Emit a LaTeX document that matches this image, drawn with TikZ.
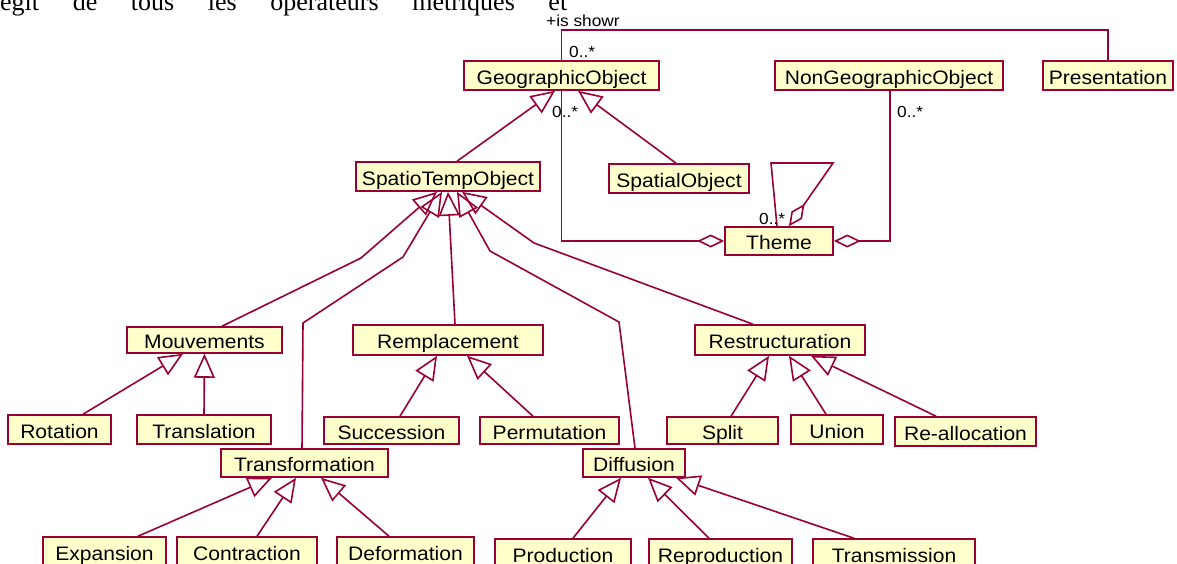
\documentclass[tikz,border=0pt]{standalone}
\usepackage{fontspec}
\setmainfont{Liberation Sans}[FakeStretch=1.08]
\newfontfamily\pagefont{Liberation Serif}
\usetikzlibrary{arrows.meta}
\definecolor{umlline}{HTML}{990033}
\definecolor{umlfill}{HTML}{FFFFCC}
\tikzset{
  cls/.style={draw=umlline, fill=umlfill, line width=1.6pt, inner sep=0pt,
    font=\fontsize{19.5}{21}\selectfont, text=black, text height=19.5pt, text depth=2pt},
  conn/.style={draw=umlline, line width=1.6pt},
  gen/.style={conn, -{Triangle[open,length=24pt,width=21pt]}},
  agg/.style={conn, -{Diamond[open,length=27pt,width=13pt]}},
  lbl/.style={font=\fontsize{16}{18}\selectfont, inner sep=0pt, anchor=base west},
}
\begin{document}
\begin{tikzpicture}[x=1pt,y=-1pt]
\useasboundingbox (0,0) rectangle (1177,563);
\clip (0,0) rectangle (1177,563);
\fill[white] (0,0) rectangle (1177,563);

% page text (cropped)
\node[anchor=base west, inner sep=0pt, font=\pagefont\fontsize{26}{28}\selectfont] (pagetext) at (0,10.5)
  {\makebox[567pt][s]{egit de tous les opérateurs métriques et}};

% classes
\node[cls, minimum width=195pt, minimum height=29pt] (geo) at (561.5,75.5) {GeographicObject};
\node[cls, minimum width=228pt, minimum height=29pt] (nongeo) at (889,75.5) {NonGeographicObject};
\node[cls, minimum width=130pt, minimum height=29pt] (pres) at (1108,75.5) {Presentation};
\node[cls, minimum width=184pt, minimum height=29pt] (spt) at (448,176.5) {SpatioTempObject};
\node[cls, minimum width=140pt, minimum height=29pt] (spatial) at (679,178.5) {SpatialObject};
\node[cls, minimum width=108pt, minimum height=28pt] (theme) at (779,241) {Theme};

\node[cls, minimum width=155pt, minimum height=26pt] (mouv) at (204.5,340) {Mouvements};
\node[cls, minimum width=190pt, minimum height=30pt] (rempl) at (448,340) {Remplacement};
\node[cls, minimum width=170pt, minimum height=30pt] (restr) at (780,340) {Restructuration};

\node[cls, minimum width=103pt, minimum height=29pt] (rot) at (59.5,429.5) {Rotation};
\node[cls, minimum width=134pt, minimum height=29pt] (trans) at (204,429.5) {Translation};
\node[cls, minimum width=135pt, minimum height=27pt] (succ) at (391.5,430.5) {Succession};
\node[cls, minimum width=139pt, minimum height=27pt] (perm) at (549.5,430.5) {Permutation};
\node[cls, minimum width=111pt, minimum height=27pt] (split) at (722.5,430.5) {Split};
\node[cls, minimum width=92pt, minimum height=29pt] (union) at (837,429.5) {Union};
\node[cls, minimum width=141pt, minimum height=29pt] (realloc) at (965.5,431.5) {Re-allocation};

\node[cls, minimum width=167pt, minimum height=28pt] (transf) at (304.5,463) {Transformation};
\node[cls, minimum width=102pt, minimum height=28pt] (diff) at (634,463) {Diffusion};

\node[cls, minimum width=123pt, minimum height=30pt] (exp) at (104.5,552) {Expansion};
\node[cls, minimum width=140pt, minimum height=30pt] (contr) at (247,552) {Contraction};
\node[cls, minimum width=137pt, minimum height=30pt] (deform) at (405.5,552) {Deformation};
\node[cls, minimum width=136pt, minimum height=30pt] (prod) at (563,554) {Production};
\node[cls, minimum width=143pt, minimum height=30pt] (repro) at (720.5,554) {Reproduction};
\node[cls, minimum width=162pt, minimum height=30pt] (transm) at (894,554) {Transmission};

% bend points
\coordinate (bm) at (361,258);
\coordinate (bt1) at (303,323);
\coordinate (bt2) at (403,257);
\coordinate (bd1) at (619,322);
\coordinate (bd2) at (490,251);
\coordinate (br) at (534,243);
\coordinate (l1) at (771,163);
\coordinate (l2) at (833,163);

% association GeographicObject - Presentation
\draw[conn] (geo.north) -- ++(0,-30) -| (pres.north);
\node[lbl] (m1) at (569,57) {0..*};
\node[lbl] (role) at (546,26) {+is showr};

% aggregations to Theme
\draw[agg] (geo.south) -- (geo.south |- theme.west) -- (theme.west);
\draw[agg] ([xshift=1pt]nongeo.south) -- ([xshift=1pt]nongeo.south |- theme.east) -- (theme.east);
\draw[agg] ([xshift=-2pt]theme.north) -- (l1) -- (l2) -- ([xshift=10pt]theme.north);
\node[lbl] (m2) at (552,117) {0..*};
\node[lbl] (m3) at (897,117) {0..*};
\node[lbl] (m4) at (759,224) {0..*};

% generalizations, upper
\draw[gen] ([xshift=9pt]spt.north) -- ([xshift=-6.5pt]geo.south);
\draw[gen] ([xshift=-3pt]spatial.north) -- ([xshift=16.5pt]geo.south);

% to SpatioTempObject
\draw[gen] ([xshift=17.5pt]mouv.north) -- (bm) -- ([xshift=-11pt]spt.south);
\draw[gen] ([xshift=-2.5pt]transf.north) -- (bt1) -- (bt2) -- ([xshift=-6pt]spt.south);
\draw[gen] ([xshift=7pt]rempl.north) -- ([xshift=0pt]spt.south);
\draw[gen] ([xshift=1pt]diff.north) -- (bd1) -- (bd2) -- ([xshift=9pt]spt.south);
\draw[gen] ([xshift=-27pt]restr.north) -- (br) -- ([xshift=14pt]spt.south);

% Mouvements
\draw[gen] ([xshift=23.5pt]rot.north) -- ([xshift=-21.5pt]mouv.south);
\draw[gen] (trans.north) -- (mouv.south);
% Remplacement
\draw[gen] ([xshift=8.5pt]succ.north) -- ([xshift=-11pt]rempl.south);
\draw[gen] ([xshift=-16.5pt]perm.north) -- ([xshift=19pt]rempl.south);
% Restructuration
\draw[gen] ([xshift=8.5pt]split.north) -- ([xshift=-11pt]restr.south);
\draw[gen] ([xshift=-11pt]union.north) -- ([xshift=9pt]restr.south);
\draw[gen] ([xshift=-29.5pt]realloc.north) -- ([xshift=31pt]restr.south);
% Transformation
\draw[gen] ([xshift=33.5pt]exp.north) -- ([xshift=-32.5pt]transf.south);
\draw[gen] ([xshift=10pt]contr.north) -- ([xshift=-8.5pt]transf.south);
\draw[gen] ([xshift=-16.5pt]deform.north) -- ([xshift=16.5pt]transf.south);
% Diffusion
\draw[gen] ([xshift=10pt]prod.north) -- ([xshift=-13pt]diff.south);
\draw[gen] ([xshift=-11.5pt]repro.north) -- ([xshift=14pt]diff.south);
\draw[gen] ([xshift=-40pt]transm.north) -- ([xshift=42pt]diff.south);
\end{tikzpicture}
\end{document}
